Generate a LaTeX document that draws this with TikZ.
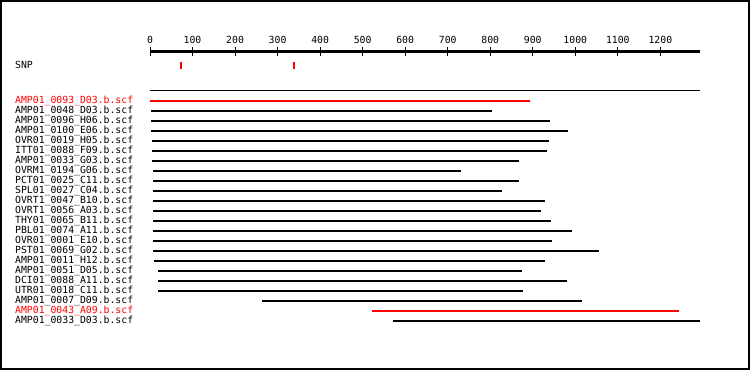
\documentclass[tikz,border=0pt]{standalone}
\usepackage{fontspec}
\newfontfamily\pixfont{DejaVu Sans Mono}
\begin{document}
\begin{tikzpicture}[x=1pt,y=-1pt,
  lbl/.style={font=\pixfont\fontsize{9.8}{10}\selectfont, inner sep=0pt, anchor=base west},
  ticklbl/.style={font=\pixfont\fontsize{9.8}{10}\selectfont, inner sep=0pt, anchor=base},
  bar/.style={line width=2pt},
  tickmark/.style={line width=1pt},
  snpmark/.style={fill=red, draw=none}]
\useasboundingbox (0,0) rectangle (750,370);
\draw[line width=2pt] (1,1) rectangle (749,369);
% axis
\coordinate (ax0) at (150,51.5);
\coordinate (ax1) at (700,51.5);
\draw[line width=3pt] (ax0) -- (ax1);
\foreach \v in {0,100,...,1200}{
  \pgfmathsetmacro\tx{150+0.4253*\v}
  \coordinate (tt\v) at (\tx,47);
  \coordinate (tb\v) at (\tx,56);
  \draw[tickmark] (tt\v) -- (tb\v);
  \node[ticklbl] (tl\v) at (\tx,43) {\v};
}
% SNP
\node[lbl] (snp) at (15,68.5) {SNP};
\fill[snpmark] (179.5,62) rectangle (182,69);
\fill[snpmark] (292.5,62) rectangle (295,69);
% separator
\coordinate (sep0) at (150,90.5);
\coordinate (sep1) at (700,90.5);
\draw[line width=1pt] (sep0) -- (sep1);
% reads
\foreach \name/\s/\e/\c [count=\i] in {
  AMP01\_0093\_D03.b.scf/150/530/red,
  AMP01\_0048\_D03.b.scf/151/492/black,
  AMP01\_0096\_H06.b.scf/151/550/black,
  AMP01\_0100\_E06.b.scf/151/568/black,
  OVR01\_0019\_H05.b.scf/152/549/black,
  ITT01\_0088\_F09.b.scf/152/547/black,
  AMP01\_0033\_G03.b.scf/152/519/black,
  OVRM1\_0194\_G06.b.scf/153/461/black,
  PCT01\_0025\_C11.b.scf/153/519/black,
  SPL01\_0027\_C04.b.scf/153/502/black,
  OVRT1\_0047\_B10.b.scf/153/545/black,
  OVRT1\_0056\_A03.b.scf/153/541/black,
  THY01\_0065\_B11.b.scf/153/551/black,
  PBL01\_0074\_A11.b.scf/153/572/black,
  OVR01\_0001\_E10.b.scf/153/552/black,
  PST01\_0069\_G02.b.scf/153/599/black,
  AMP01\_0011\_H12.b.scf/154/545/black,
  AMP01\_0051\_D05.b.scf/158/522/black,
  DCI01\_0088\_A11.b.scf/158/567/black,
  UTR01\_0018\_C11.b.scf/158/523/black,
  AMP01\_0007\_D09.b.scf/262/582/black,
  AMP01\_0043\_A09.b.scf/372/679/red,
  AMP01\_0033\_D03.b.scf/393/700/black}{
  \pgfmathsetmacro\yy{91+10*\i}
  \node[lbl, text=\c] (lab\i) at (15,\yy+2.5) {\name};
  \coordinate (bs\i) at (\s,\yy);
  \coordinate (be\i) at (\e,\yy);
  \draw[bar, \c] (bs\i) -- (be\i);
}
\end{tikzpicture}
\end{document}
